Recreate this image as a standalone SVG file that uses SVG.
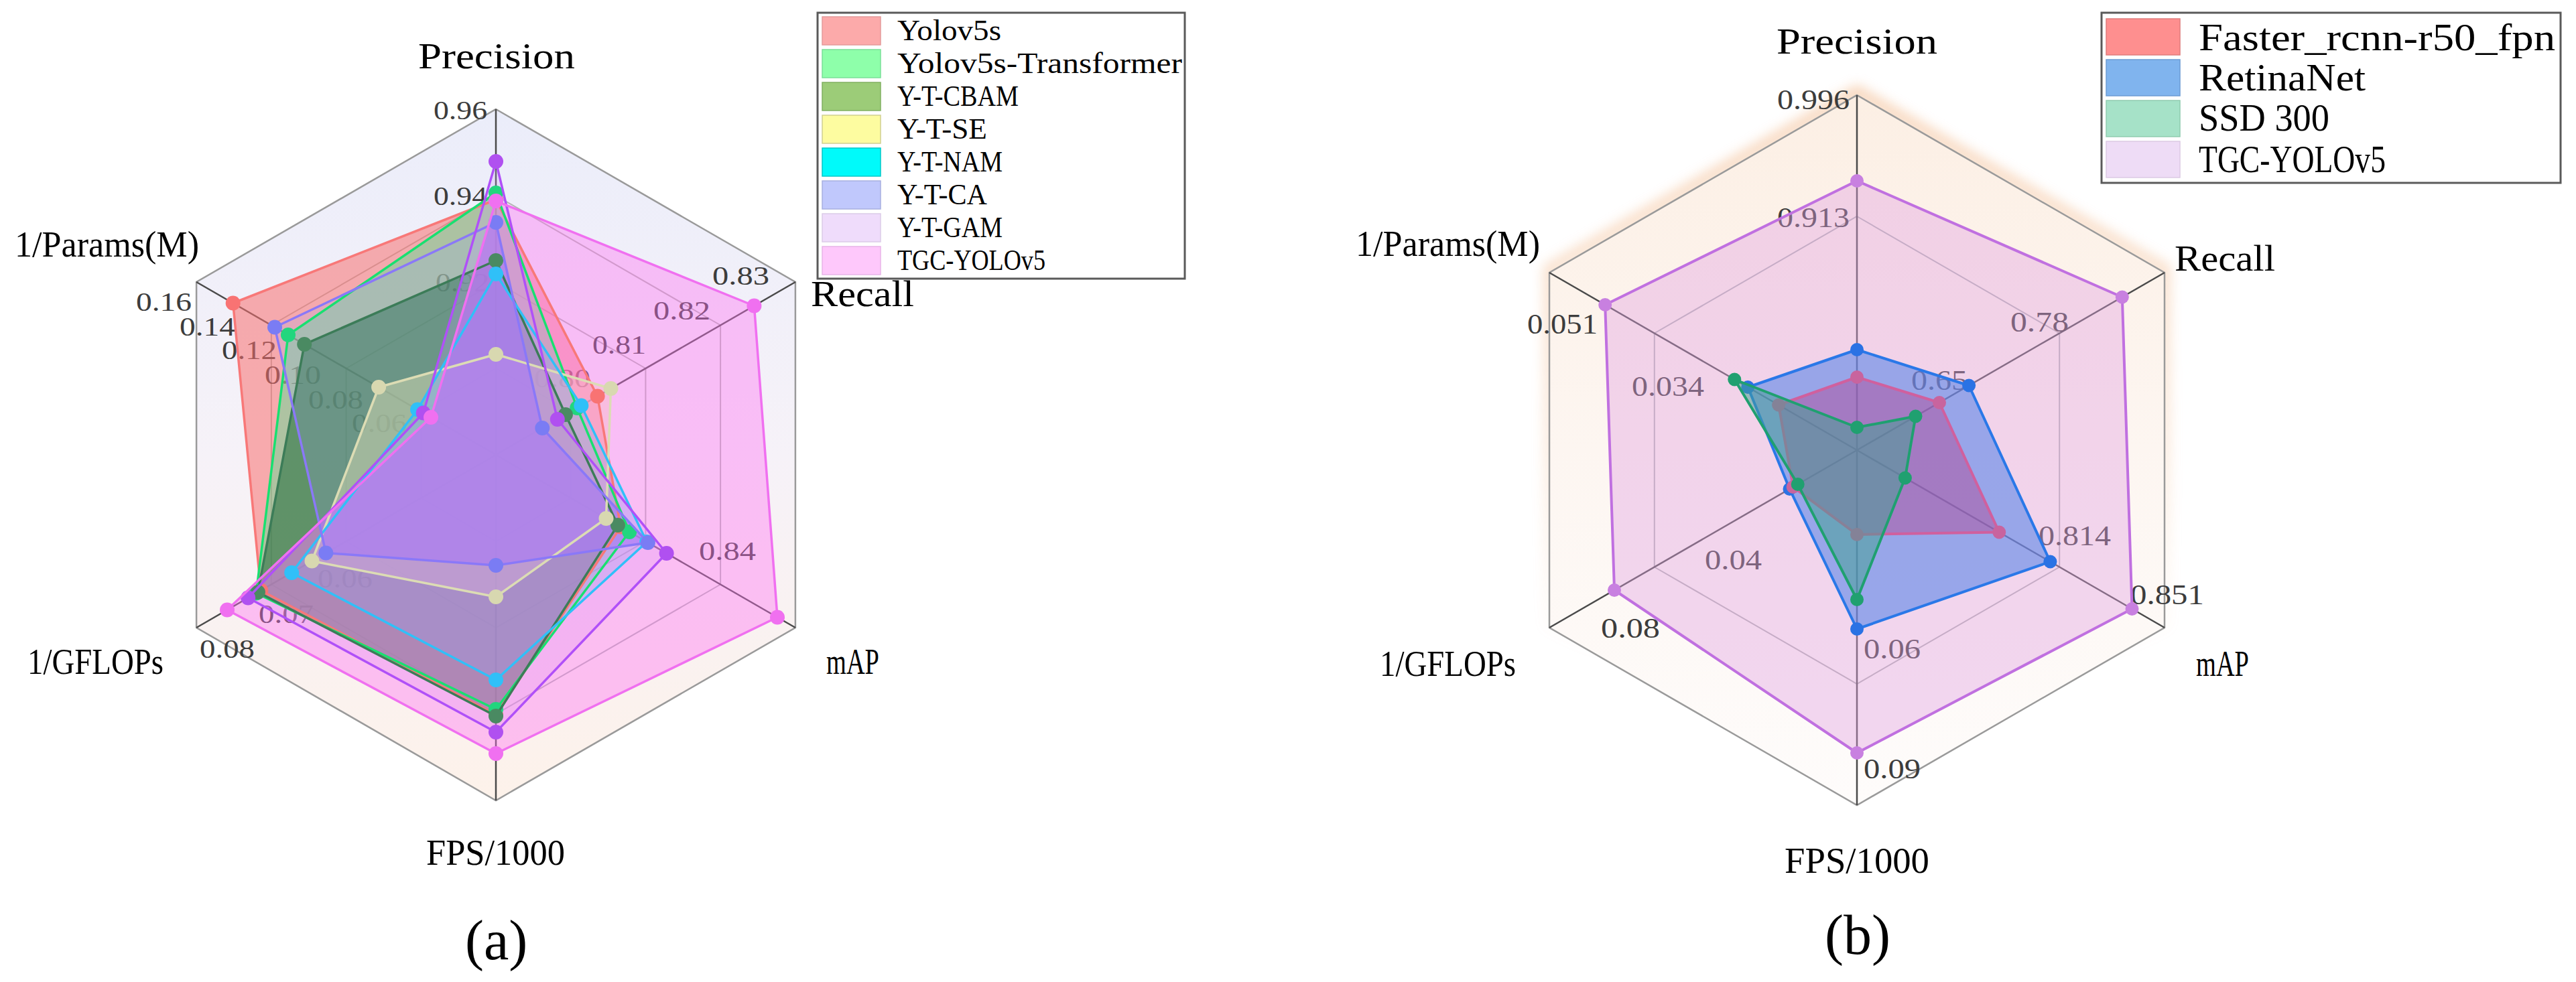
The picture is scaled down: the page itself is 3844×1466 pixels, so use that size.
<svg xmlns="http://www.w3.org/2000/svg" width="3844" height="1466" viewBox="0 0 3844 1466">
<defs>
<style>
text{font-family:"Liberation Serif","Times New Roman",serif}
.ax{font-size:54px;fill:#000}
.tk{font-size:39px;fill:#3c3c3c}
.tkb{font-size:43px;fill:#3c3c3c}
.lg{font-size:45px;fill:#000}
.lgb{font-size:57px;fill:#000}
.cap{font-size:84px;fill:#000}
.grid{fill:none;stroke:#b4b4b4;stroke-width:2}
.outer{fill:none;stroke:#9a9a9a;stroke-width:2.5}
.spoke{stroke:#4a4a4a;stroke-width:2.5}
.box{fill:#fff;stroke:#5a5a5a;stroke-width:3}
.area polygon{stroke:none}
.line polygon{fill:none;stroke-width:3.5;stroke-linejoin:round}
.lineb polygon{fill:none;stroke-width:4;stroke-linejoin:round}
.line circle,.lineb circle{stroke:none}
.area.a-yolo polygon{fill:#f87070;fill-opacity:.55}
.area.a-tr polygon{fill:#40e890;fill-opacity:.4}
.area.a-cbam polygon{fill:#1f6a3a;fill-opacity:.55}
.area.a-se polygon{fill:#f4f0a8;fill-opacity:.45}
.area.a-nam polygon{fill:#30c4f4;fill-opacity:.3}
.area.a-ca polygon{fill:#9aa4f8;fill-opacity:.2}
.area.a-ca polygon.in{fill:#6a78f8;fill-opacity:.55}
.area.a-gam polygon{fill:#c8a8f8;fill-opacity:.25}
.area.a-tgc polygon{fill:#ff70f2;fill-opacity:.4}
.line.a-yolo polygon{stroke:#f87878}.line.a-yolo circle{fill:#f87373}
.line.a-tr polygon{stroke:#18e070}.line.a-tr circle{fill:#22d67e}
.line.a-cbam polygon{stroke:#3c7c58}.line.a-cbam circle{fill:#4a8a62}
.line.a-se polygon{stroke:#dcdcb4}.line.a-se circle{fill:#d8d8b0}
.line.a-nam polygon{stroke:#30c0f8}.line.a-nam circle{fill:#30c0f8}
.line.a-ca polygon{stroke:#8a78f8}.line.a-ca circle{fill:#7a7cf4}
.line.a-gam polygon{stroke:#b050f8}.line.a-gam circle{fill:#b050f0}
.line.a-tgc polygon{stroke:#f070f0}.line.a-tgc circle{fill:#f070f0}
.b-fr polygon{fill:#b0509c;fill-opacity:.5;stroke:#d0609e}.b-fr circle{fill:#c8649e}
.b-rn polygon{fill:#4e7fe7;fill-opacity:.55;stroke:#2a78e8}.b-rn circle{fill:#2a72e4}
.b-ssd polygon{fill:#40a090;fill-opacity:.5;stroke:#1fa070}.b-ssd circle{fill:#20a070}
.b-tgc polygon{fill:#e0a0e0;fill-opacity:.4;stroke:#c070e0}.b-tgc circle{fill:#c880e0}
</style>
<linearGradient id="bgA" x1="0" y1="0" x2="0" y2="1">
<stop offset="0" stop-color="#ebedfa"/><stop offset="0.5" stop-color="#f6f2f8"/><stop offset="1" stop-color="#fdf2ea"/>
</linearGradient>
<linearGradient id="bgB" x1="0" y1="0" x2="0" y2="1">
<stop offset="0" stop-color="#fcefe4"/><stop offset="0.5" stop-color="#fdf6f1"/><stop offset="1" stop-color="#fefcfb"/>
</linearGradient>
<linearGradient id="glowGrad" x1="0" y1="0" x2="0" y2="1">
<stop offset="0" stop-color="#f2b88a" stop-opacity="1"/><stop offset="0.5" stop-color="#f2b88a" stop-opacity="0.45"/><stop offset="0.8" stop-color="#f2b88a" stop-opacity="0"/>
</linearGradient>
<filter id="glow" x="-10%" y="-10%" width="120%" height="120%"><feGaussianBlur stdDeviation="9"/></filter>
<clipPath id="clipTgcA"><polygon points="740,300 1125.4,456.5 1160,921.5 740,1125 339,910.5 643,623"/></clipPath>
</defs>
<rect width="3844" height="1466" fill="#fff"/>

<g id="chart-a">
<g id="chart-a-grid">
<polygon points="740,163 1186.9,421 1186.9,937 740,1195 293.1,937 293.1,421" fill="url(#bgA)" stroke="none"/>
<polygon class="grid" points="740,292 1075.1,485.5 1075.1,872.5 740,1066 404.9,872.5 404.9,485.5"/>
<polygon class="grid" points="740,421 963.4,550 963.4,808 740,937 516.6,808 516.6,550"/>
<polygon class="grid" points="740,550 851.7,614.5 851.7,743.5 740,808 628.3,743.5 628.3,614.5"/>
<polygon class="outer" points="740,163 1186.9,421 1186.9,937 740,1195 293.1,937 293.1,421"/>
<line class="spoke" x1="740" y1="679" x2="740" y2="163"/>
<line class="spoke" x1="740" y1="679" x2="1186.9" y2="421"/>
<line class="spoke" x1="740" y1="679" x2="1186.9" y2="937"/>
<line class="spoke" x1="740" y1="679" x2="740" y2="1195"/>
<line class="spoke" x1="740" y1="679" x2="293.1" y2="937"/>
<line class="spoke" x1="740" y1="679" x2="293.1" y2="421"/>
</g>
<g id="chart-a-ticks">
<text class="tk" x="647" y="178" textLength="80" lengthAdjust="spacingAndGlyphs">0.96</text>
<text class="tk" x="647" y="306" textLength="80" lengthAdjust="spacingAndGlyphs">0.94</text>
<text class="tk" x="650" y="435" textLength="80" lengthAdjust="spacingAndGlyphs">0.92</text>
<text class="tk" x="203" y="464" textLength="83" lengthAdjust="spacingAndGlyphs">0.16</text>
<text class="tk" x="268" y="501" textLength="83" lengthAdjust="spacingAndGlyphs">0.14</text>
<text class="tk" x="331" y="536" textLength="82" lengthAdjust="spacingAndGlyphs">0.12</text>
<text class="tk" x="395" y="573" textLength="84" lengthAdjust="spacingAndGlyphs">0.10</text>
<text class="tk" x="460" y="610" textLength="82" lengthAdjust="spacingAndGlyphs">0.08</text>
<text class="tk" x="525" y="645" textLength="82" lengthAdjust="spacingAndGlyphs">0.06</text>
<text class="tk" x="1063" y="425" textLength="85" lengthAdjust="spacingAndGlyphs">0.83</text>
<text class="tk" x="975" y="477" textLength="85" lengthAdjust="spacingAndGlyphs">0.82</text>
<text class="tk" x="884" y="528" textLength="80" lengthAdjust="spacingAndGlyphs">0.81</text>
<text class="tk" x="797" y="578" textLength="84" lengthAdjust="spacingAndGlyphs">0.80</text>
<text class="tk" x="1043" y="836" textLength="85" lengthAdjust="spacingAndGlyphs">0.84</text>
<text class="tk" x="298" y="982" textLength="82" lengthAdjust="spacingAndGlyphs">0.08</text>
<text class="tk" x="386" y="930" textLength="82" lengthAdjust="spacingAndGlyphs">0.07</text>
<text class="tk" x="474" y="877" textLength="82" lengthAdjust="spacingAndGlyphs">0.06</text>
</g>
<g id="chart-a-areas">
<g id="a-yolo-area" class="area a-yolo"><polygon points="740,298 891.6,591.5 926.2,786.5 740,1067 389.3,881.5 347.7,452.5"/></g>
<g id="a-tr-area" class="area a-tr"><polygon points="740,288 861.2,609 939.2,794 740,1059 382.3,885.5 430,500"/></g>
<g id="a-cbam-area" class="area a-cbam"><polygon points="740,389 843.9,619 921.9,784 740,1069 384.9,884 454.2,514"/></g>
<g id="a-se-area" class="area a-se"><polygon points="740,529 911.5,580 904.5,774 740,891 465.5,837.5 565.1,578"/></g>
<g id="a-nam-area" class="area a-nam"><polygon points="740,409 867.3,605.5 965.2,809 740,1015 435.2,855 623.1,611.5"/></g>
<g id="a-gam-area" class="area a-gam"><polygon points="740,241 831.8,626 994.6,826 740,1093 370.2,892.5 631.7,616.5"/></g>
<g id="a-ca-area" class="area a-ca"><polygon points="740,332 809.3,639 966.9,810 740,844 486.3,825.5 410,488.5"/>
<polygon class="in" clip-path="url(#clipTgcA)" points="740,332 809.3,639 966.9,810 740,844 486.3,825.5 410,488.5"/></g>
<g id="a-tgc-area" class="area a-tgc"><polygon points="740,300 1125.4,456.5 1160,921.5 740,1125 339,910.5 643,623"/></g>
</g>
<g id="chart-a-lines">
<g id="a-yolo-line" class="line a-yolo"><polygon points="740,298 891.6,591.5 926.2,786.5 740,1067 389.3,881.5 347.7,452.5"/>
<circle cx="740" cy="298" r="11"/><circle cx="891.6" cy="591.5" r="11"/><circle cx="926.2" cy="786.5" r="11"/><circle cx="740" cy="1067" r="11"/><circle cx="389.3" cy="881.5" r="11"/><circle cx="347.7" cy="452.5" r="11"/></g>
<g id="a-tr-line" class="line a-tr"><polygon points="740,288 861.2,609 939.2,794 740,1059 382.3,885.5 430,500"/>
<circle cx="740" cy="288" r="11"/><circle cx="861.2" cy="609" r="11"/><circle cx="939.2" cy="794" r="11"/><circle cx="740" cy="1059" r="11"/><circle cx="382.3" cy="885.5" r="11"/><circle cx="430" cy="500" r="11"/></g>
<g id="a-cbam-line" class="line a-cbam"><polygon points="740,389 843.9,619 921.9,784 740,1069 384.9,884 454.2,514"/>
<circle cx="740" cy="389" r="11"/><circle cx="843.9" cy="619" r="11"/><circle cx="921.9" cy="784" r="11"/><circle cx="740" cy="1069" r="11"/><circle cx="384.9" cy="884" r="11"/><circle cx="454.2" cy="514" r="11"/></g>
<g id="a-se-line" class="line a-se"><polygon points="740,529 911.5,580 904.5,774 740,891 465.5,837.5 565.1,578"/>
<circle cx="740" cy="529" r="11"/><circle cx="911.5" cy="580" r="11"/><circle cx="904.5" cy="774" r="11"/><circle cx="740" cy="891" r="11"/><circle cx="465.5" cy="837.5" r="11"/><circle cx="565.1" cy="578" r="11"/></g>
<g id="a-nam-line" class="line a-nam"><polygon points="740,409 867.3,605.5 965.2,809 740,1015 435.2,855 623.1,611.5"/>
<circle cx="740" cy="409" r="11"/><circle cx="867.3" cy="605.5" r="11"/><circle cx="965.2" cy="809" r="11"/><circle cx="740" cy="1015" r="11"/><circle cx="435.2" cy="855" r="11"/><circle cx="623.1" cy="611.5" r="11"/></g>
<g id="a-ca-line" class="line a-ca"><polygon points="740,332 809.3,639 966.9,810 740,844 486.3,825.5 410,488.5"/>
<circle cx="740" cy="332" r="11"/><circle cx="809.3" cy="639" r="11"/><circle cx="966.9" cy="810" r="11"/><circle cx="740" cy="844" r="11"/><circle cx="486.3" cy="825.5" r="11"/><circle cx="410" cy="488.5" r="11"/></g>
<g id="a-gam-line" class="line a-gam"><polygon points="740,241 831.8,626 994.6,826 740,1093 370.2,892.5 631.7,616.5"/>
<circle cx="740" cy="241" r="11"/><circle cx="831.8" cy="626" r="11"/><circle cx="994.6" cy="826" r="11"/><circle cx="740" cy="1093" r="11"/><circle cx="370.2" cy="892.5" r="11"/><circle cx="631.7" cy="616.5" r="11"/></g>
<g id="a-tgc-line" class="line a-tgc"><polygon points="740,300 1125.4,456.5 1160,921.5 740,1125 339,910.5 643,623"/>
<circle cx="740" cy="300" r="11"/><circle cx="1125.4" cy="456.5" r="11"/><circle cx="1160" cy="921.5" r="11"/><circle cx="740" cy="1125" r="11"/><circle cx="339" cy="910.5" r="11"/><circle cx="643" cy="623" r="11"/></g>
</g>
<g id="chart-a-axis-names">
<text class="ax" x="624" y="102" textLength="234" lengthAdjust="spacingAndGlyphs">Precision</text>
<text class="ax" x="1210" y="457" textLength="154" lengthAdjust="spacingAndGlyphs">Recall</text>
<text class="ax" x="1233" y="1006" textLength="79" lengthAdjust="spacingAndGlyphs">mAP</text>
<text class="ax" x="636" y="1291" textLength="207" lengthAdjust="spacingAndGlyphs">FPS/1000</text>
<text class="ax" x="41" y="1006" textLength="203" lengthAdjust="spacingAndGlyphs">1/GFLOPs</text>
<text class="ax" x="22" y="383" textLength="275" lengthAdjust="spacingAndGlyphs">1/Params(M)</text>
<text class="cap" x="694" y="1432">(a)</text>
</g>
</g>

<g id="legend-a">
<rect class="box" x="1220" y="19" width="548" height="397"/>
<g id="legend-a-yolov5s"><rect x="1227" y="25" width="87" height="42" fill="#fcaaaa" stroke="#e49a9a" stroke-width="1.5"/><text class="lg" x="1339" y="60" textLength="155" lengthAdjust="spacingAndGlyphs">Yolov5s</text></g>
<g id="legend-a-transformer"><rect x="1227" y="74" width="87" height="42" fill="#8effaa" stroke="#7ae098" stroke-width="1.5"/><text class="lg" x="1339" y="109" textLength="425" lengthAdjust="spacingAndGlyphs">Yolov5s-Transformer</text></g>
<g id="legend-a-cbam"><rect x="1227" y="123" width="87" height="42" fill="#9ccc78" stroke="#80b060" stroke-width="1.5"/><text class="lg" x="1339" y="158" textLength="181" lengthAdjust="spacingAndGlyphs">Y-T-CBAM</text></g>
<g id="legend-a-se"><rect x="1227" y="172" width="87" height="42" fill="#fdfca0" stroke="#d0d090" stroke-width="1.5"/><text class="lg" x="1339" y="207" textLength="134" lengthAdjust="spacingAndGlyphs">Y-T-SE</text></g>
<g id="legend-a-nam"><rect x="1227" y="221" width="87" height="42" fill="#00fafa" stroke="#00c8c8" stroke-width="1.5"/><text class="lg" x="1339" y="256" textLength="157" lengthAdjust="spacingAndGlyphs">Y-T-NAM</text></g>
<g id="legend-a-ca"><rect x="1227" y="270" width="87" height="42" fill="#c0c8fc" stroke="#a8b0e0" stroke-width="1.5"/><text class="lg" x="1339" y="305" textLength="134" lengthAdjust="spacingAndGlyphs">Y-T-CA</text></g>
<g id="legend-a-gam"><rect x="1227" y="319" width="87" height="42" fill="#efdcfb" stroke="#dccce8" stroke-width="1.5"/><text class="lg" x="1339" y="354" textLength="157" lengthAdjust="spacingAndGlyphs">Y-T-GAM</text></g>
<g id="legend-a-tgc"><rect x="1227" y="368" width="87" height="42" fill="#fec8fb" stroke="#e8b4e8" stroke-width="1.5"/><text class="lg" x="1339" y="403" textLength="221" lengthAdjust="spacingAndGlyphs">TGC-YOLOv5</text></g>
</g>

<g id="chart-b">
<g id="chart-b-grid">
<polygon points="2771,142 3230,407 3230,937 2771,1202 2312,937 2312,407" fill="none" stroke="url(#glowGrad)" stroke-width="18" opacity="0.6" filter="url(#glow)" transform="translate(0,-5)"/>
<polygon points="2771,142 3230,407 3230,937 2771,1202 2312,937 2312,407" fill="url(#bgB)" stroke="none"/>
<polygon class="grid" points="2771,323 3073.2,497.5 3073.2,846.5 2771,1021 2468.8,846.5 2468.8,497.5"/>
<polygon class="outer" points="2771,142 3230,407 3230,937 2771,1202 2312,937 2312,407"/>
<line class="spoke" x1="2771" y1="672" x2="2771" y2="142"/>
<line class="spoke" x1="2771" y1="672" x2="3230" y2="407"/>
<line class="spoke" x1="2771" y1="672" x2="3230" y2="937"/>
<line class="spoke" x1="2771" y1="672" x2="2771" y2="1202"/>
<line class="spoke" x1="2771" y1="672" x2="2312" y2="937"/>
<line class="spoke" x1="2771" y1="672" x2="2312" y2="407"/>
</g>
<g id="chart-b-ticks">
<text class="tkb" x="2652" y="163" textLength="108" lengthAdjust="spacingAndGlyphs">0.996</text>
<text class="tkb" x="2652" y="339" textLength="108" lengthAdjust="spacingAndGlyphs">0.913</text>
<text class="tkb" x="2279" y="498" textLength="105" lengthAdjust="spacingAndGlyphs">0.051</text>
<text class="tkb" x="2435" y="591" textLength="108" lengthAdjust="spacingAndGlyphs">0.034</text>
<text class="tkb" x="3000" y="495" textLength="87" lengthAdjust="spacingAndGlyphs">0.78</text>
<text class="tkb" x="2852" y="582" textLength="84" lengthAdjust="spacingAndGlyphs">0.65</text>
<text class="tkb" x="3042" y="814" textLength="108" lengthAdjust="spacingAndGlyphs">0.814</text>
<text class="tkb" x="3179" y="902" textLength="110" lengthAdjust="spacingAndGlyphs">0.851</text>
<text class="tkb" x="2544" y="850" textLength="85" lengthAdjust="spacingAndGlyphs">0.04</text>
<text class="tkb" x="2389" y="952" textLength="88" lengthAdjust="spacingAndGlyphs">0.08</text>
<text class="tkb" x="2781" y="983" textLength="85" lengthAdjust="spacingAndGlyphs">0.06</text>
<text class="tkb" x="2781" y="1162" textLength="85" lengthAdjust="spacingAndGlyphs">0.09</text>
</g>
<g id="chart-b-series">
<g id="b-tgc" class="lineb b-tgc"><polygon style="fill:#e0a0e0;fill-opacity:.4" points="2771,270 3166.8,443.5 3181.5,909 2771,1124 2409,881 2395.2,455"/>
<circle cx="2771" cy="270" r="10"/><circle cx="3166.8" cy="443.5" r="10"/><circle cx="3181.5" cy="909" r="10"/><circle cx="2771" cy="1124" r="10"/><circle cx="2409" cy="881" r="10"/><circle cx="2395.2" cy="455" r="10"/></g>
<g id="b-retinanet" class="lineb b-rn"><polygon style="fill:#4e7fe7;fill-opacity:.55" points="2771,522 2938.1,575.5 3059.4,838.5 2771,939 2670.5,730 2608.2,578"/>
<circle cx="2771" cy="522" r="10"/><circle cx="2938.1" cy="575.5" r="10"/><circle cx="3059.4" cy="838.5" r="10"/><circle cx="2771" cy="939" r="10"/><circle cx="2670.5" cy="730" r="10"/><circle cx="2608.2" cy="578" r="10"/></g>
<g id="b-faster" class="lineb b-fr"><polygon style="fill:#b0509c;fill-opacity:.5" points="2771,563 2894,601 2983.2,794.5 2771,798 2675.7,727 2654.1,604.5"/>
<circle cx="2771" cy="563" r="10"/><circle cx="2894" cy="601" r="10"/><circle cx="2983.2" cy="794.5" r="10"/><circle cx="2771" cy="798" r="10"/><circle cx="2675.7" cy="727" r="10"/><circle cx="2654.1" cy="604.5" r="10"/></g>
<g id="b-ssd" class="lineb b-ssd"><polygon style="fill:#40a090;fill-opacity:.5" points="2771,638 2858.5,621.5 2842.9,713.5 2771,895 2682.7,723 2588.3,566.5"/>
<circle cx="2771" cy="638" r="10"/><circle cx="2858.5" cy="621.5" r="10"/><circle cx="2842.9" cy="713.5" r="10"/><circle cx="2771" cy="895" r="10"/><circle cx="2682.7" cy="723" r="10"/><circle cx="2588.3" cy="566.5" r="10"/></g>
</g>
<g id="chart-b-axis-names">
<text class="ax" x="2651" y="80" textLength="240" lengthAdjust="spacingAndGlyphs">Precision</text>
<text class="ax" x="3245" y="404" textLength="150" lengthAdjust="spacingAndGlyphs">Recall</text>
<text class="ax" x="3277" y="1009" textLength="79" lengthAdjust="spacingAndGlyphs">mAP</text>
<text class="ax" x="2663" y="1303" textLength="216" lengthAdjust="spacingAndGlyphs">FPS/1000</text>
<text class="ax" x="2059" y="1009" textLength="203" lengthAdjust="spacingAndGlyphs">1/GFLOPs</text>
<text class="ax" x="2023" y="382" textLength="275" lengthAdjust="spacingAndGlyphs">1/Params(M)</text>
<text class="cap" x="2723" y="1424">(b)</text>
</g>
</g>

<g id="legend-b">
<rect class="box" x="3136" y="19" width="685" height="254"/>
<g id="legend-b-faster"><rect x="3143" y="28" width="110" height="54" fill="#fe8f8f" stroke="#e07c7c" stroke-width="1.5"/><text class="lgb" x="3281" y="75" textLength="532" lengthAdjust="spacingAndGlyphs">Faster_rcnn-r50_fpn</text></g>
<g id="legend-b-retinanet"><rect x="3143" y="89" width="110" height="54" fill="#80b4ee" stroke="#6c9cd4" stroke-width="1.5"/><text class="lgb" x="3281" y="135" textLength="249" lengthAdjust="spacingAndGlyphs">RetinaNet</text></g>
<g id="legend-b-ssd"><rect x="3143" y="150" width="110" height="54" fill="#a6e2c8" stroke="#90ccb0" stroke-width="1.5"/><text class="lgb" x="3281" y="195" textLength="195" lengthAdjust="spacingAndGlyphs">SSD 300</text></g>
<g id="legend-b-tgc"><rect x="3143" y="211" width="110" height="54" fill="#eedcf6" stroke="#dccae4" stroke-width="1.5"/><text class="lgb" x="3281" y="257" textLength="279" lengthAdjust="spacingAndGlyphs">TGC-YOLOv5</text></g>
</g>
</svg>
